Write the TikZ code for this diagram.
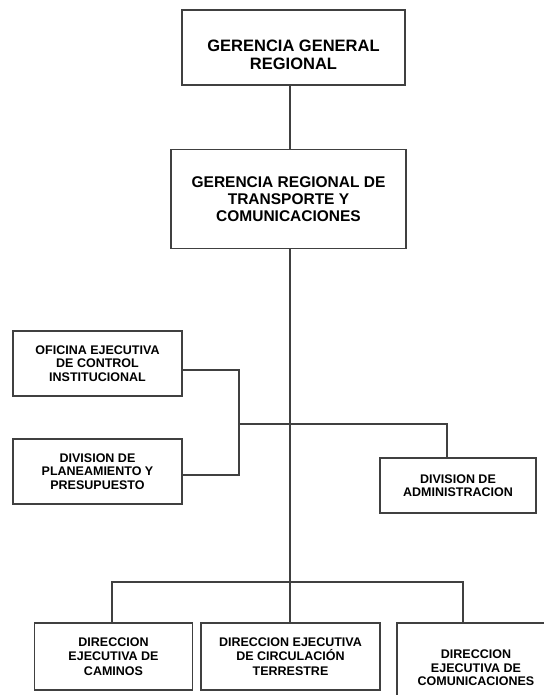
\documentclass[tikz,border=0pt]{standalone}
\usepackage{fontspec}
\setmainfont{Liberation Sans}
\usepackage{tikz}
\usetikzlibrary{positioning}
\tikzset{unit node/.style={rectangle, draw=black!75, line width=1.1pt, fill=white, inner sep=0pt,
    align=center, font=\fontsize{12.5}{13.5}\selectfont\bfseries},
  head node/.style={unit node, font=\fontsize{15.5}{17}\selectfont\bfseries},
  link/.style={draw=black!75, line width=1.1pt}
}

\begin{document}
\begin{tikzpicture}[x=1pt, y=-1pt]
          \useasboundingbox (0,0) rectangle (543,695);
          % Top management
          \node[head node, minimum width=223pt, minimum height=75pt] (ggr) at (293.5,47.5) {};
          \node[head node, draw=none, fill=none, font=\fontsize{16.5}{17.5}\selectfont\bfseries] (ggrtext) at (293.5,55) {GERENCIA GENERAL\\REGIONAL};
          \node[head node, minimum width=235pt, minimum height=99pt] (grtc) at (288.5,199) {GERENCIA REGIONAL DE\\TRANSPORTE Y\\COMUNICACIONES};
          % Advisory and support units
          \node[unit node, minimum width=169pt, minimum height=65pt] (ofi) at (97.5,363.5) {OFICINA EJECUTIVA\\DE CONTROL\\INSTITUCIONAL};
          \node[unit node, minimum width=169pt, minimum height=65pt] (plan) at (97.5,471.5) {DIVISION DE\\PLANEAMIENTO Y\\PRESUPUESTO};
          \node[unit node, minimum width=156pt, minimum height=55pt] (adm) at (458,485.5) {DIVISION DE\\ADMINISTRACION};
          % Line units
          \node[unit node, font=\fontsize{12.5}{14.5}\selectfont\bfseries, minimum width=158pt, minimum height=67pt] (cam) at (113.5,656.5) {DIRECCION\\EJECUTIVA DE\\CAMINOS};
          \node[unit node, font=\fontsize{12.5}{14.5}\selectfont\bfseries, minimum width=179pt, minimum height=67pt] (cir) at (290.5,656.5) {DIRECCION EJECUTIVA\\DE CIRCULACIÓN\\TERRESTRE};
          \node[unit node, minimum width=158pt, minimum height=90pt] (com) at (476,668) {DIRECCION\\EJECUTIVA DE\\COMUNICACIONES};
          % Connections
          \coordinate (spine) at (290,582);
          \coordinate (lj) at (239,424);
          \coordinate (rj) at (447,424);
          \coordinate (bl) at (112,582);
          \coordinate (br) at (463,582);
          \draw[link] (ggr.south -| spine) -- (grtc.north -| spine);
          \draw[link] (grtc.south -| spine) -- (cir.north -| spine);
          \draw[link] ([yshift=-6.5pt]ofi.east) -| (lj) |- ([yshift=-3.5pt]plan.east);
          \draw[link] (lj) -- (rj) -- (rj |- adm.north);
          \draw[link] (cam.north -| bl) -- (bl) -- (br) -- (br |- com.north);
        \end{tikzpicture}
\end{document}
